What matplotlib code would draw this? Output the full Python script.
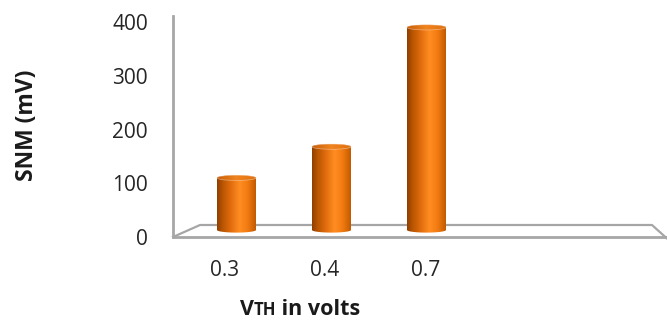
import numpy as np
import matplotlib
matplotlib.use("Agg")
import matplotlib.pyplot as plt
import matplotlib.transforms as mtransforms
from matplotlib.path import Path
from matplotlib.patches import PathPatch, Ellipse
from matplotlib.colors import LinearSegmentedColormap

# --- data -------------------------------------------------------------
categories = ["0.3", "0.4", "0.7"]
snm_mv = [97, 155, 377]
y_ticks = [0, 100, 200, 300, 400]
y_label = "SNM (mV)"
x_label_parts = [("V", 15.5), ("TH", 12), (" in volts", 15.5)]

# --- figure / axes geometry (pixels) ----------------------------------
W, H = 667, 325
DPI = 100
fig = plt.figure(figsize=(W / DPI, H / DPI), dpi=DPI)
fig.patch.set_facecolor("white")

left_px, right_px = 173, 667      # floor front edge, left/right
first_px, step_px = 236.5, 95.0   # first category centre, category spacing
base_px = 95.0                    # value 0 (from bottom of figure)
px_per_mv = 0.5375
ymin, ymax = -25, 420

ax = fig.add_axes([
    left_px / W,
    (base_px + ymin * px_per_mv) / H,
    (right_px - left_px) / W,
    (ymax - ymin) * px_per_mv / H,
])
ax.set_xlim((left_px - first_px) / step_px, (right_px - first_px) / step_px)
ax.set_ylim(ymin, ymax)
ax.axis("off")

FONT = "Open Sans"
GRID = "#a6a6a6"
TEXT = "#262626"

def px_offset(dx, dy):
    return mtransforms.ScaledTranslation(dx / DPI, dy / DPI, fig.dpi_scale_trans)

# --- floor and side wall ---------------------------------------------
x0, x1 = ax.get_xlim()
front = -7 / px_per_mv
back = 5 / px_per_mv
bx0 = (200 - first_px) / step_px
bx1 = (652 - first_px) / step_px
ax.plot([x0, x1], [front, front], color=GRID, lw=2.0, solid_capstyle="butt", zorder=1, clip_on=False)
ax.plot([x0, bx0, bx1, x1], [front, back, back, front - 1.5 / px_per_mv],
        color=GRID, lw=1.6, zorder=1, clip_on=False)
ax.plot([x0, x0], [front, 398], color=GRID, lw=2.0, zorder=1, clip_on=False)

# --- value axis labels ------------------------------------------------
tick_trans = ax.transData + px_offset(0, -9.5)
for t in y_ticks:
    ax.text((148 - first_px) / step_px, t, str(t), transform=tick_trans,
            ha="right", va="center", fontsize=15, family=FONT,
            color=TEXT, clip_on=False)

# --- cylinders --------------------------------------------------------
body_cmap = LinearSegmentedColormap.from_list("body", [
    (0.00, "#8f3f00"), (0.12, "#b45200"), (0.35, "#e06c0c"),
    (0.58, "#ff8d22"), (0.78, "#f37c12"), (1.00, "#c25a00")])
top_cmap = LinearSegmentedColormap.from_list("top", [
    (0.00, "#c85e08"), (0.5, "#f08420"), (1.00, "#e07010")])

half_w = 19.5 / step_px
cap = 2.6 / px_per_mv
grad = np.linspace(0, 1, 256)[None, :]

for i, v in enumerate(snm_mv):
    t_bot = np.linspace(np.pi, 2 * np.pi, 60)
    t_top = np.linspace(0, np.pi, 60)
    xs = np.concatenate([[i - half_w], i + half_w * np.cos(t_bot),
                         i + half_w * np.cos(t_top)])
    ys = np.concatenate([[v], cap * np.sin(t_bot), v + cap * np.sin(t_top)])
    outline = PathPatch(Path(np.column_stack([xs, ys]), closed=False),
                        facecolor="none", edgecolor="none", transform=ax.transData)
    ax.add_patch(outline)
    im = ax.imshow(grad, extent=(i - half_w, i + half_w, -cap, v + cap),
                   aspect="auto", cmap=body_cmap, zorder=3, interpolation="bilinear")
    im.set_clip_path(outline)

    top = Ellipse((i, v), 2 * half_w, 2 * cap, facecolor="none",
                  edgecolor="none", transform=ax.transData)
    ax.add_patch(top)
    im_top = ax.imshow(grad, extent=(i - half_w, i + half_w, v - cap, v + cap),
                       aspect="auto", cmap=top_cmap, zorder=4, interpolation="bilinear")
    im_top.set_clip_path(top)
    ax.add_patch(Ellipse((i, v), 2 * half_w, 2 * cap, facecolor="none",
                         edgecolor="#f6d8bf", lw=0.5, alpha=0.6, zorder=5))

# --- category labels --------------------------------------------------
cat_trans = ax.transData + px_offset(0, -41)
for i, c in enumerate(categories):
    ax.text(i * 1.058 - 12 / step_px, 0, c, transform=cat_trans,
            ha="center", va="center", fontsize=15, family=FONT,
            color=TEXT, clip_on=False)

# --- axis titles ------------------------------------------------------
fig.text(27 / W, 1 - 125 / H, y_label, rotation=90, ha="center", va="center",
         fontsize=16.5, fontweight="bold", family=FONT, color="#1a1a1a")

# x title: small-caps "TH" sharing the baseline of the surrounding text
renderer = fig.canvas.get_renderer()
x_px, y_base = 240.0, H - 315.0
for txt, size in x_label_parts:
    t = fig.text(x_px / W, y_base / H, txt, ha="left", va="baseline",
                 fontsize=size, fontweight="bold", family=FONT, color="#1a1a1a")
    x_px = t.get_window_extent(renderer).x1

fig.savefig("out.png", dpi=DPI, facecolor="white")
